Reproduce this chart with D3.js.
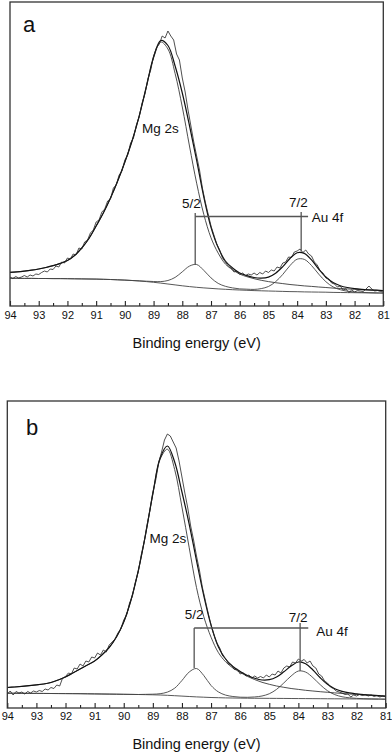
<!DOCTYPE html>
<html>
<head>
<meta charset="utf-8">
<script src="https://cdn.jsdelivr.net/npm/d3@7"></script>
<style>
  html, body { margin: 0; padding: 0; background: #fff; }
  svg { display: block; font-family: "Liberation Sans", Arial, sans-serif; }
</style>
</head>
<body>
<svg id="chart" width="392" height="754"></svg>
<script>
// binding energy grid of the fitted curves (eV)
const fitE = [94, 93.75, 93.5, 93.25, 93, 92.75, 92.5, 92.25, 92, 91.75, 91.5, 91.25, 91, 90.75, 90.5, 90.25,
  90, 89.75, 89.5, 89.25, 89, 88.75, 88.5, 88.25, 88, 87.75, 87.5, 87.25, 87, 86.75, 86.5, 86.25,
  86, 85.75, 85.5, 85.25, 85, 84.75, 84.5, 84.25, 84, 83.75, 83.5, 83.25, 83, 82.75, 82.5, 82.25,
  82, 81.75, 81.5, 81.25, 81];

// binding energy grid of the measured spectra (eV)
const rawE = [94.0, 93.9, 93.8, 93.7, 93.6, 93.5, 93.4, 93.3, 93.2, 93.1,
  93.0, 92.9, 92.8, 92.7, 92.6, 92.5, 92.4, 92.3, 92.2, 92.1,
  92.0, 91.9, 91.8, 91.7, 91.6, 91.5, 91.4, 91.3, 91.2, 91.1,
  91.0, 90.9, 90.8, 90.7, 90.6, 90.5, 90.4, 90.3, 90.2, 90.1,
  90.0, 89.9, 89.8, 89.7, 89.6, 89.5, 89.4, 89.3, 89.2, 89.1,
  89.0, 88.9, 88.8, 88.7, 88.6, 88.5, 88.4, 88.3, 88.2, 88.1,
  88.0, 87.9, 87.8, 87.7, 87.6, 87.5, 87.4, 87.3, 87.2, 87.1,
  87.0, 86.9, 86.8, 86.7, 86.6, 86.5, 86.4, 86.3, 86.2, 86.1,
  86.0, 85.9, 85.8, 85.7, 85.6, 85.5, 85.4, 85.3, 85.2, 85.1,
  85.0, 84.9, 84.8, 84.7, 84.6, 84.5, 84.4, 84.3, 84.2, 84.1,
  84.0, 83.9, 83.8, 83.7, 83.6, 83.5, 83.4, 83.3, 83.2, 83.1,
  83.0, 82.9, 82.8, 82.7, 82.6, 82.5, 82.4, 82.3, 82.2, 82.1,
  82.0, 81.9, 81.8, 81.7, 81.6, 81.5, 81.4, 81.3, 81.2, 81.1,
  81.0];

const majorTicks = [94, 93, 92, 91, 90, 89, 88, 87, 86, 85, 84, 83, 82, 81];
const minorTicks = [93.5, 92.5, 91.5, 90.5, 89.5, 88.5, 87.5, 86.5, 85.5, 84.5, 83.5, 82.5, 81.5];

// ---- panel a (intensity, a.u.) ----
const rawA = [29, 27.5, 29.5, 28, 29, 30.5, 29, 31, 30, 32,
  31.5, 33.5, 35, 34, 37, 36.5, 40, 39, 44, 43,
  48, 47, 52, 51, 58, 57, 64, 66, 73, 76,
  84, 86, 94, 97, 105, 107, 118, 121, 131, 135,
  146, 151, 163, 168, 181, 189, 203, 212, 227, 236,
  250, 258, 262, 270, 268, 275, 270, 266, 252, 246,
  228, 214, 196, 180, 164, 150, 136, 118, 104, 92,
  80, 71, 62, 56, 48, 44, 40, 38, 34, 35,
  31.5, 33, 30.5, 32, 31, 33, 31, 33.5, 32, 35,
  33.5, 36, 35, 39, 38, 43, 44, 49, 48.5, 54,
  55, 57, 53.5, 56, 52, 50, 44, 41, 35, 33,
  28, 27, 23, 22, 19, 20, 16, 17, 13.5, 16,
  14, 15.5, 15, 14.5, 17, 20, 17, 15, 15.5, 14.5,
  14];
const envA = [33.7, 34.2, 34.9, 35.8, 37.0, 38.5, 40.3, 42.6, 45.5, 50.5, 58.0, 67.5, 80.0, 93.0, 108.0, 125.0,
  144.0, 165.0, 190.2, 219.6, 249.0, 265.5, 260.5, 240.0, 213.0, 180.5, 145.6, 109.0, 78.7, 58.4, 45.0, 38.0,
  33.0, 30.4, 28.5, 27.9, 28.9, 32.8, 39.4, 47.5, 53.3, 52.6, 46.1, 37.0, 29.0, 23.4, 20.3, 18.5,
  17.4, 16.7, 16.2, 15.8, 15.4];
const mgA = [33.7, 34.2, 34.9, 35.8, 37.0, 38.5, 40.3, 42.6, 45.5, 50.5, 58.0, 67.5, 80.0, 93.0, 108.0, 125.0,
  143.9, 165.0, 190.0, 219.2, 248.2, 264.0, 257.0, 232.5, 199.0, 160.0, 122.8, 91.5, 68.2, 52.9, 42.0, 36.2,
  31.9, 29.3, 27.3, 25.7, 24.4, 23.3, 22.4, 21.5, 20.8, 20.1, 19.6, 19.0, 18.5, 17.9, 17.5, 17.1,
  16.7, 16.3, 16.0, 15.7, 15.4];
const auA = [27.7, 27.7, 27.6, 27.6, 27.5, 27.5, 27.4, 27.4, 27.3, 27.2, 27.1, 27.0, 26.9, 26.7, 26.5, 26.2,
  25.9, 25.5, 25.2, 24.8, 24.5, 24.4, 25.5, 28.6, 34.2, 39.9, 41.5, 35.6, 28.1, 22.6, 19.7, 18.1,
  17.1, 16.8, 16.6, 17.4, 19.5, 24.3, 31.6, 40.4, 46.8, 46.6, 40.5, 31.9, 24.3, 19.1, 16.3, 14.8,
  14.0, 13.6, 13.3, 13.1, 12.9];
const bgA = [27.7, 27.7, 27.6, 27.6, 27.5, 27.5, 27.4, 27.4, 27.3, 27.2, 27.1, 27.0, 26.9, 26.7, 26.5, 26.2,
  25.9, 25.5, 25.0, 24.4, 23.7, 22.9, 22.0, 21.1, 20.2, 19.4, 18.7, 18.1, 17.6, 17.1, 16.7, 16.3,
  16.0, 15.7, 15.4, 15.2, 15.0, 14.8, 14.6, 14.4, 14.3, 14.1, 14.0, 13.9, 13.8, 13.6, 13.5, 13.4,
  13.3, 13.2, 13.1, 13.0, 12.9];

// ---- panel b (intensity, a.u.) ----
const rawB = [14, 17, 13, 16.5, 15, 16, 14, 16.5, 15, 17,
  16, 17.5, 16.5, 19, 18, 20.5, 19.5, 23, 22, 30,
  31.5, 35, 34, 40, 39, 44, 42, 47, 46, 51,
  50, 55, 53, 58, 56, 63, 66, 69, 75, 79,
  88, 93, 105, 112, 126, 136, 153, 166, 183, 198,
  216, 228, 245, 256, 268, 274, 272, 266, 260, 247,
  231, 215, 200, 182, 168, 152, 138, 121, 108, 95,
  83, 73, 65, 60, 52, 49.5, 44, 43, 38.5, 39,
  34, 35.5, 32, 33, 30, 32, 30, 31.5, 30, 33,
  31, 34, 33, 37, 35, 40, 42, 41, 46, 45,
  49, 47, 48.5, 45, 47, 42, 40, 34, 32, 27,
  25, 21, 19.5, 17, 16, 15, 13.5, 14, 11, 13,
  12, 13.5, 12.5, 13.5, 12, 13, 11.5, 12.5, 11, 12,
  11];
const envB = [20.5, 21.0, 21.6, 22.3, 23.1, 24.0, 25.5, 28.0, 31.0, 35.0, 39.0, 43.0, 47.0, 53.0, 60.5, 71.0,
  86.0, 108.0, 137.3, 173.5, 214.3, 250.0, 262.0, 246.0, 216.0, 183.7, 147.4, 112.3, 82.8, 61.3, 49.0, 41.5,
  36.5, 32.5, 29.7, 28.0, 28.3, 31.0, 36.2, 42.0, 46.0, 44.2, 38.0, 30.3, 23.7, 19.3, 16.7, 15.1,
  14.2, 13.4, 12.8, 12.3, 11.8];
const mgB = [20.5, 21.0, 21.6, 22.3, 23.1, 24.0, 25.5, 28.0, 31.0, 35.0, 39.0, 43.0, 47.0, 53.0, 60.5, 71.0,
  86.0, 108.0, 137.3, 173.2, 213.7, 248.7, 258.8, 238.5, 201.0, 160.2, 120.4, 91.3, 70.8, 55.5, 46.2, 40.0,
  35.6, 31.6, 28.4, 25.7, 23.7, 22.0, 20.7, 19.5, 18.6, 17.7, 17.0, 16.3, 15.7, 15.1, 14.6, 14.0,
  13.6, 13.1, 12.7, 12.2, 11.8];
const auB = [14.8, 14.75, 14.7, 14.65, 14.6, 14.55, 14.5, 14.45, 14.4, 14.35, 14.3, 14.2, 14.1, 14.0, 13.9, 13.8,
  13.7, 13.6, 13.5, 13.65, 13.8, 14.3, 15.9, 19.8, 27.5, 36.0, 39.5, 32.5, 22.5, 16.1, 12.9, 11.5,
  10.8, 10.7, 11.05, 12.0, 14.25, 18.6, 25.05, 32.0, 36.95, 35.9, 30.35, 23.3, 17.25, 13.4, 11.25, 10.2,
  9.65, 9.3, 9.1, 8.95, 8.8];
const bgB = [14.8, 14.75, 14.7, 14.65, 14.6, 14.55, 14.5, 14.45, 14.4, 14.35, 14.3, 14.2, 14.1, 14.0, 13.9, 13.8,
  13.7, 13.6, 13.5, 13.35, 13.2, 13.0, 12.7, 12.3, 11.9, 11.5, 11.1, 10.8, 10.5, 10.3, 10.1, 10.0,
  9.9, 9.8, 9.75, 9.7, 9.65, 9.6, 9.55, 9.5, 9.45, 9.4, 9.35, 9.3, 9.25, 9.2, 9.15, 9.1,
  9.05, 9.0, 8.95, 8.9, 8.8];

const svg = d3.select('#chart');

const panels = [
  { name: 'a', left: 10, right: 383.3, top: 2, bottom: 306, ymax: 304, tickPad: 5.2, titleY: 348,
    raw: rawA, env: envA, mg: mgA, au: auA, bg: bgA,
    letter: [93.55, 274], mgLabel: [88.76, 173],
    lab52: [87.68, 98], lab72: [83.96, 99.3], labAu: [83.49, 84],
    e52: 87.55, e72: 83.86, bracketEnd: 83.62, bracketY: 89.5,
    top52: 93, bot52: 41, top72: 94, bot72: 54.5 },
  { name: 'b', left: 7.3, right: 385.7, top: 401, bottom: 708, ymax: 307, tickPad: 4.6, titleY: 749,
    raw: rawB, env: envB, mg: mgB, au: auB, bg: bgB,
    letter: [93.36, 273], mgLabel: [88.48, 165],
    lab52: [87.58, 89], lab72: [84.01, 86.3], labAu: [83.39, 72.5],
    e52: 87.58, e72: 83.94, bracketEnd: 83.66, bracketY: 80,
    top52: 80, bot52: 40, top72: 85, bot72: 37 }
];

panels.forEach(p => {
  const x = d3.scaleLinear().domain([94, 81]).range([p.left, p.right]);
  const y = d3.scaleLinear().domain([0, p.ymax]).range([p.bottom, p.top]);
  const g = svg.append('g');

  const smooth = d3.line()
    .x((d, i) => x(fitE[i]))
    .y(d => y(d))
    .curve(d3.curveCatmullRom);
  const jagged = d3.line()
    .x((d, i) => x(rawE[i]))
    .y(d => y(d));

  // fitted components
  [[p.bg, '#444', 0.9], [p.au, '#444', 0.9], [p.mg, '#3a3a3a', 0.9], [p.env, '#111', 1.2]]
    .forEach(([vals, col, w]) => {
      g.append('path')
        .attr('d', smooth(vals))
        .attr('fill', 'none')
        .attr('stroke', col)
        .attr('stroke-width', w);
    });

  // measured spectrum
  g.append('path')
    .attr('d', jagged(p.raw))
    .attr('fill', 'none')
    .attr('stroke', '#222')
    .attr('stroke-width', 0.8)
    .attr('stroke-linejoin', 'round');

  // Au 4f bracket
  const br = g.append('g').attr('stroke', '#555').attr('stroke-width', 1.3);
  br.append('line')
    .attr('x1', x(p.e52)).attr('x2', x(p.bracketEnd))
    .attr('y1', y(p.bracketY)).attr('y2', y(p.bracketY));
  br.append('line')
    .attr('x1', x(p.e52)).attr('x2', x(p.e52))
    .attr('y1', y(p.top52)).attr('y2', y(p.bot52));
  br.append('line')
    .attr('x1', x(p.e72)).attr('x2', x(p.e72))
    .attr('y1', y(p.top72)).attr('y2', y(p.bot72));

  const txt = (pos, s, size, anchor) => g.append('text')
    .attr('x', x(pos[0])).attr('y', y(pos[1]))
    .attr('text-anchor', anchor)
    .attr('font-size', size)
    .attr('fill', '#111')
    .text(s);

  txt(p.letter, p.name, 22, 'start');
  txt(p.mgLabel, 'Mg 2s', 13.5, 'middle');
  txt(p.lab52, '5/2', 13.5, 'middle');
  txt(p.lab72, '7/2', 13.5, 'middle');
  txt(p.labAu, 'Au 4f', 13.5, 'start');

  // axis ticks, pointing inward
  const axMajor = g.append('g')
    .attr('transform', `translate(0,${p.bottom})`)
    .call(d3.axisBottom(x).tickValues(majorTicks).tickSize(-5).tickPadding(p.tickPad).tickFormat(d3.format('d')));
  const axMinor = g.append('g')
    .attr('transform', `translate(0,${p.bottom})`)
    .call(d3.axisBottom(x).tickValues(minorTicks).tickSize(-3).tickFormat(''));
  [axMajor, axMinor].forEach(a => {
    a.select('.domain').remove();
    a.selectAll('line').attr('stroke', '#222').attr('stroke-width', 1.1);
  });
  axMajor.selectAll('text')
    .attr('font-size', 11)
    .attr('font-family', '"Liberation Sans", Arial, sans-serif')
    .attr('fill', '#111');

  // frame
  g.append('rect')
    .attr('x', p.left).attr('y', p.top)
    .attr('width', p.right - p.left).attr('height', p.bottom - p.top)
    .attr('fill', 'none')
    .attr('stroke', '#333')
    .attr('stroke-width', 1.3);

  g.append('text')
    .attr('x', (p.left + p.right) / 2)
    .attr('y', p.titleY)
    .attr('text-anchor', 'middle')
    .attr('font-size', 14.5)
    .attr('fill', '#111')
    .text('Binding energy (eV)');
});
</script>
</body>
</html>
